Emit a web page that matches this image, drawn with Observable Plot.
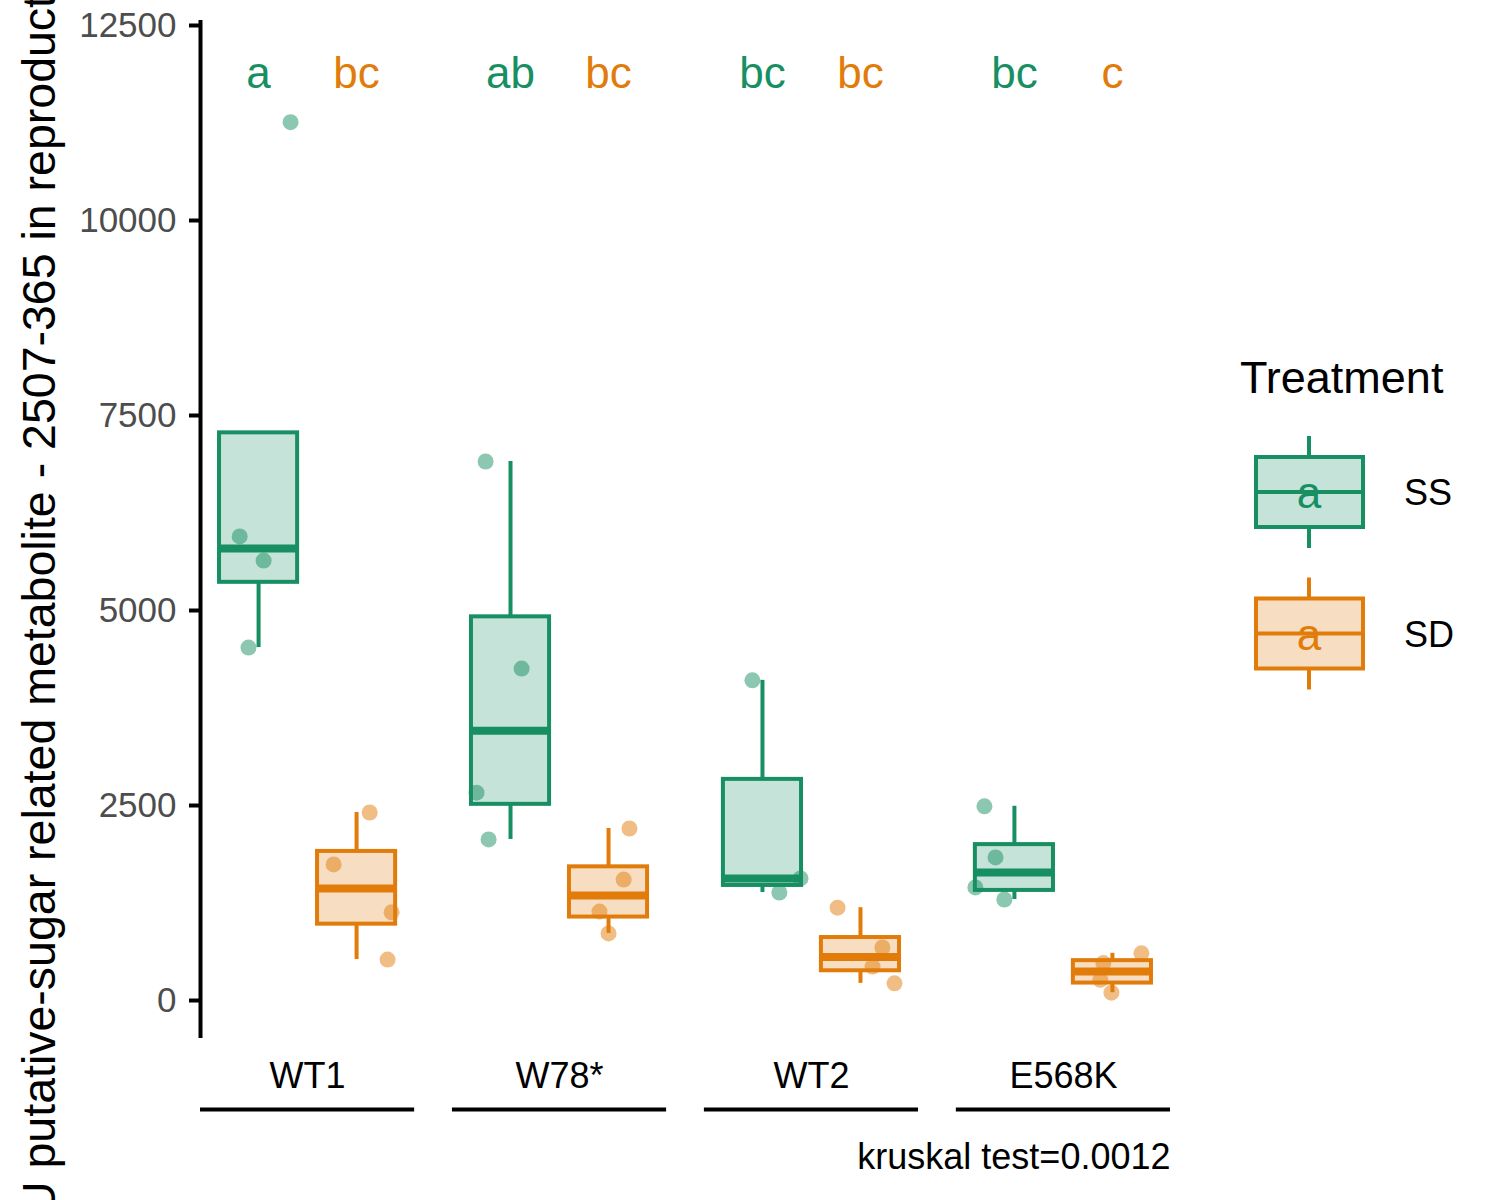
<!DOCTYPE html>
<html>
<head>
<meta charset="utf-8">
<script src="https://cdn.jsdelivr.net/npm/d3@7"></script>
<script src="https://cdn.jsdelivr.net/npm/@observablehq/plot@0.6"></script>
<style>
  html, body { margin: 0; padding: 0; background: #ffffff; }
  #chart svg { display: block; }
</style>
</head>
<body>
<div id="chart"></div>
<script>
// ---- data ----
const genotypes = ["WT1", "W78*", "WT2", "E568K"];
const treatments = ["SS", "SD"];
const treatmentColors = ["#178F63", "#E17C0B"];

const wt1SS   = [11260, 5950, 5640, 4525];
const wt1SD   = [2410, 1745, 1130, 525];
const w78SS   = [6910, 4255, 2665, 2065];
const w78SD   = [2205, 1550, 1140, 860];
const wt2SS   = [4105, 1565, 1385];
const wt2SD   = [1190, 680, 435, 220];
const e568kSS = [2490, 1835, 1450, 1295];
const e568kSD = [605, 480, 265, 100];

// horizontal jitter of each point (fraction of the group spacing)
const wt1SSJitter   = [0.127, -0.075, 0.020, -0.040];
const wt1SDJitter   = [0.052, -0.091, 0.139, 0.123];
const w78SSJitter   = [-0.099, 0.044, -0.135, -0.087];
const w78SDJitter   = [0.083, 0.060, -0.036, 0.000];
const wt2SSJitter   = [-0.040, 0.151, 0.067];
const wt2SDJitter   = [-0.091, 0.087, 0.048, 0.135];
const e568kSSJitter = [-0.119, -0.075, -0.155, -0.040];
const e568kSDJitter = [0.115, -0.036, -0.048, -0.004];

const letters = ["a", "bc", "ab", "bc", "bc", "bc", "bc", "c"];
const letterY = 12000;
const yTicks = [0, 2500, 5000, 7500, 10000, 12500];
const caption = "kruskal test=0.0012";
const yTitle = "U putative-sugar related metabolite - 2507-365 in reproduct";
const legendTitle = "Treatment";

// ---- build tables ----
const seriesValues = [wt1SS, wt1SD, w78SS, w78SD, wt2SS, wt2SD, e568kSS, e568kSD];
const seriesJitter = [wt1SSJitter, wt1SDJitter, w78SSJitter, w78SDJitter, wt2SSJitter, wt2SDJitter, e568kSSJitter, e568kSDJitter];

const dodge = 0.389;    // distance between the two boxes of one group
const halfBox = 0.155;  // half box width

const stats = [];
const points = [];
seriesValues.forEach((vals, k) => {
  const gi = Math.floor(k / 2), ti = k % 2;
  const x = gi + (ti === 0 ? -dodge / 2 : dodge / 2);
  const s = vals.slice().sort(d3.ascending);
  const q1 = d3.quantile(s, 0.25), med = d3.quantile(s, 0.5), q3 = d3.quantile(s, 0.75);
  const iqr = q3 - q1;
  const lo = d3.min(s.filter(v => v >= q1 - 1.5 * iqr));
  const hi = d3.max(s.filter(v => v <= q3 + 1.5 * iqr));
  stats.push({genotype: genotypes[gi], treatment: treatments[ti], color: treatmentColors[ti],
              x, q1, med, q3, lo: Math.min(lo, q1), hi: Math.max(hi, q3), letter: letters[k]});
  vals.forEach((v, j) => points.push({x: x + seriesJitter[k][j], y: v, color: treatmentColors[ti]}));
});

const xDomain = [-0.425, genotypes.length - 1 + 0.425];
const yDomain = [-487, 12564];

const plot = Plot.plot({
  width: 1500,
  height: 1200,
  marginLeft: 200,
  marginRight: 330,
  marginTop: 20,
  marginBottom: 162,
  style: {fontFamily: "'Liberation Sans', Arial, sans-serif", background: "#ffffff"},
  x: {domain: xDomain, axis: null},
  y: {domain: yDomain},
  marks: [
    Plot.axisY({ticks: yTicks, tickSize: 11, tickPadding: 13, stroke: "#000000", strokeWidth: 4,
                fill: "#4D4D4D", fontSize: 35, tickFormat: d3.format("d"), label: null}),
    Plot.ruleX([xDomain[0]], {stroke: "#000000", strokeWidth: 4}),
    // whiskers
    Plot.ruleX(stats, {x: "x", y1: "q3", y2: "hi", stroke: "color", strokeWidth: 4}),
    Plot.ruleX(stats, {x: "x", y1: "lo", y2: "q1", stroke: "color", strokeWidth: 4}),
    // boxes
    Plot.rect(stats, {x1: d => d.x - halfBox, x2: d => d.x + halfBox, y1: "q1", y2: "q3",
                      fill: "color", fillOpacity: 0.25, stroke: "color", strokeWidth: 4}),
    // medians
    Plot.ruleY(stats, {y: "med", x1: d => d.x - halfBox, x2: d => d.x + halfBox, stroke: "color", strokeWidth: 8}),
    // jittered points
    Plot.dot(points, {x: "x", y: "y", r: 8, fill: "color", fillOpacity: 0.5, stroke: null}),
    // significance letters
    Plot.text(stats, {x: "x", y: () => letterY, text: "letter", fill: "color", fontSize: 44, dy: 9}),
    // group labels and brackets
    Plot.text(genotypes, {x: (d, i) => i, text: d => d, frameAnchor: "bottom", dy: 49, fontSize: 36, fill: "#000000"}),
    Plot.ruleY(genotypes, {y: () => yDomain[0], x1: (d, i) => i - 0.425, x2: (d, i) => i + 0.425, dy: 71, stroke: "#000000", strokeWidth: 4}),
    // caption
    Plot.text([caption], {x: () => xDomain[1], text: d => d, frameAnchor: "bottom", textAnchor: "end", dy: 130, fontSize: 36, fill: "#000000"})
  ]
});

document.getElementById("chart").appendChild(plot);

// ---- y-axis title (clipped at the page edges like the reference) and legend ----
const svg = d3.select(plot);
svg.append("text")
  .attr("transform", "translate(55,1215) rotate(-90)")
  .attr("text-anchor", "start")
  .attr("font-size", 46.5)
  .attr("fill", "#000000")
  .text(yTitle);

const legend = svg.append("g").attr("font-family", "'Liberation Sans', Arial, sans-serif");
legend.append("text").attr("x", 1240).attr("y", 393).attr("text-anchor", "start")
  .attr("font-size", 45).attr("fill", "#000").text(legendTitle);
treatments.forEach((t, i) => {
  const cy = 492 + i * 141.5;
  const c = treatmentColors[i];
  const g = legend.append("g");
  g.append("line").attr("x1", 1309).attr("x2", 1309).attr("y1", cy - 56).attr("y2", cy + 56)
    .attr("stroke", c).attr("stroke-width", 4);
  g.append("rect").attr("x", 1256).attr("y", cy - 35).attr("width", 107).attr("height", 70)
    .attr("fill", "#ffffff").attr("stroke", "none");
  g.append("rect").attr("x", 1256).attr("y", cy - 35).attr("width", 107).attr("height", 70)
    .attr("fill", c).attr("fill-opacity", 0.25).attr("stroke", c).attr("stroke-width", 4);
  g.append("line").attr("x1", 1256).attr("x2", 1363).attr("y1", cy).attr("y2", cy)
    .attr("stroke", c).attr("stroke-width", 4);
  g.append("text").attr("x", 1309).attr("y", cy + 16).attr("text-anchor", "middle")
    .attr("font-size", 44).attr("fill", c).text("a");
  g.append("text").attr("x", 1404).attr("y", cy + 13).attr("text-anchor", "start")
    .attr("font-size", 36).attr("fill", "#000").text(t);
});
</script>
</body>
</html>
